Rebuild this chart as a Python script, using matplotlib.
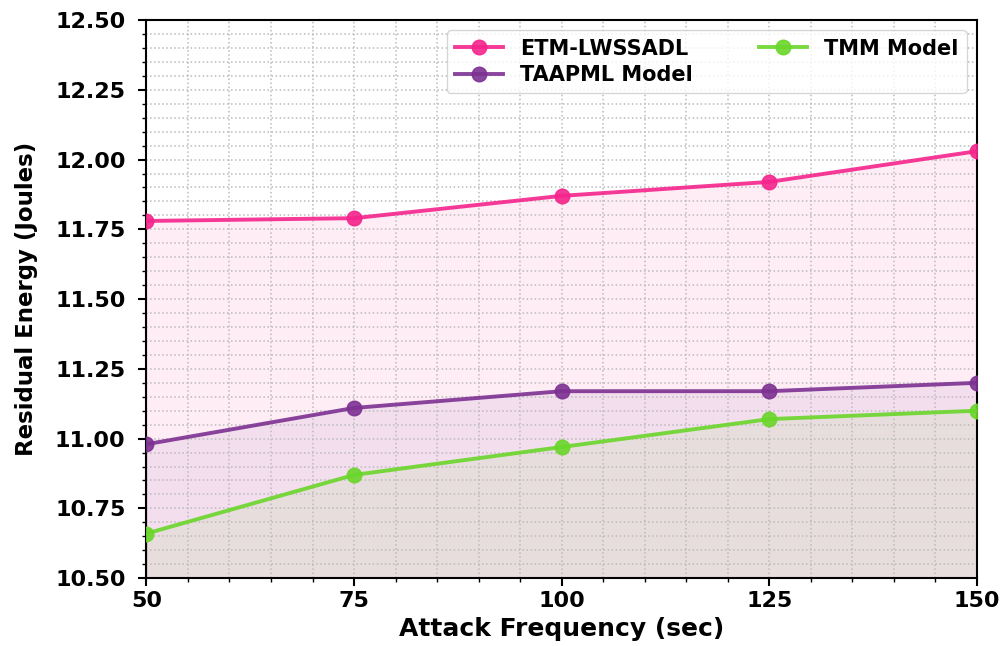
import matplotlib.pyplot as plt
from matplotlib.ticker import MultipleLocator

# attack frequency (sec) and residual energy (Joules) per model
freq = [50, 75, 100, 125, 150]
etm_lwssadl = [11.78, 11.79, 11.87, 11.92, 12.03]
taapml = [10.98, 11.11, 11.17, 11.17, 11.20]
tmm = [10.66, 10.87, 10.97, 11.07, 11.10]

series = [
    ("ETM-LWSSADL", etm_lwssadl, "#f5248c"),
    ("TAAPML Model", taapml, "#7d3192"),
    ("TMM Model", tmm, "#6ad62a"),
]

fig, ax = plt.subplots(figsize=(10.03, 6.46), dpi=100)

ymin = 10.5
for name, vals, col in series:
    ax.plot(freq, vals, marker="o", markersize=10.5, linewidth=2.8, color=col,
            alpha=0.9, label=name, zorder=3)
    ax.fill_between(freq, vals, ymin, color=col, alpha=0.08, zorder=1)

ax.set_xlim(50, 150)
ax.set_ylim(10.5, 12.5)
ax.xaxis.set_major_locator(MultipleLocator(25))
ax.xaxis.set_minor_locator(MultipleLocator(5))
ax.yaxis.set_major_locator(MultipleLocator(0.25))
ax.yaxis.set_minor_locator(MultipleLocator(0.05))
ax.grid(True, which="both", linestyle=":", color="#bbbbbb", linewidth=1.1)

ax.set_xlabel("Attack Frequency (sec)", fontsize=18, fontweight="bold")
ax.set_ylabel("Residual Energy (Joules)", fontsize=16.5, fontweight="bold",
              labelpad=12)
for lab in ax.get_xticklabels() + ax.get_yticklabels():
    lab.set_fontweight("bold")
ax.tick_params(axis="both", which="major", labelsize=16, length=6, width=1.5)
ax.tick_params(axis="y", which="major", pad=9)
ax.tick_params(axis="both", which="minor", length=3, width=1)
for sp in ax.spines.values():
    sp.set_linewidth(1.5)

ax.legend(loc="upper right", ncol=2, prop={"weight": "bold", "size": 15},
          columnspacing=3.2, handlelength=2.3, labelspacing=0.3,
          borderaxespad=0.5)

fig.subplots_adjust(left=0.146, right=0.974, top=0.969, bottom=0.105)
fig.savefig("out.png", dpi=100)
